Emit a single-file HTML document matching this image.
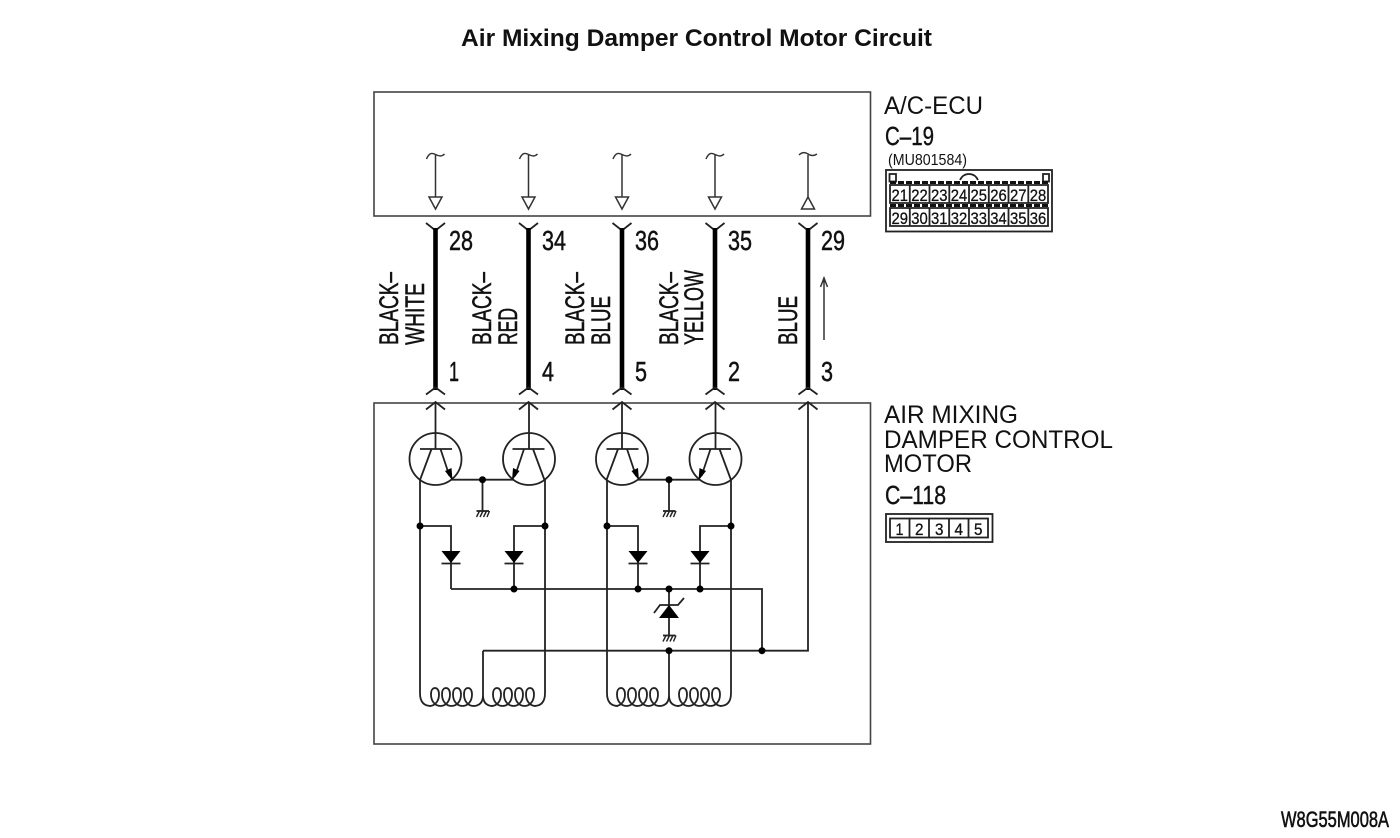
<!DOCTYPE html>
<html>
<head>
<meta charset="utf-8">
<style>
html,body{margin:0;padding:0;background:#fff}
svg{display:block}
text{font-family:"Liberation Sans",sans-serif;fill:#111}
.w{fill:none;stroke:#222;stroke-width:1.8}
.b{fill:none;stroke:#444;stroke-width:1.6}
.t{fill:none;stroke:#333;stroke-width:1.5}
.d{fill:#000}
.n text{font-size:28px;stroke:#111;stroke-width:.5}
.c text{font-size:17px;stroke:#111;stroke-width:.3}
.l text{font-size:27px;stroke:#111;stroke-width:.5}
.s{stroke:#111;stroke-width:.4}
</style>
</head>
<body>
<svg width="1400" height="838" viewBox="0 0 1400 838" xmlns="http://www.w3.org/2000/svg">
<defs>
  <g id="down" class="t">
    <path d="M-9 -50 C-6 -57 -3 -56 0 -54.500 C3 -53 6 -52 9 -55"/>
    <path d="M0 -54 V-12"/>
    <path d="M-6.500 -12 H6.500 L0 0 Z" fill="#fff"/>
  </g>
  <g id="wire">
    <path d="M-9.500 223 L0 230.500 L9.500 223" class="w"/>
    <path d="M0 228 V390" fill="none" stroke="#000" stroke-width="4.600"/>
    <path d="M-9.500 394.500 L0 387.500 L9.500 394.500" class="w"/>
    <path d="M-9.500 409.500 L0 402 L9.500 409.500" class="w"/>
  </g>
  <g id="ground" class="w">
    <path d="M-6 0 H6.500"/>
    <path d="M-3 0 L-6 6 M0.500 0 L-2.500 6 M4 0 L1 6 M7 0 L4.500 6" stroke-width="1.400"/>
  </g>
  <g id="diode">
    <path d="M-9.500 0 H9.500 L0 12 Z" fill="#000"/>
    <path d="M-9.500 12.500 H9.500" class="w"/>
  </g>
  <path id="loop" class="w" d="M-5.500 18 C0 18 4 13 4 6.500 C4 2.500 2.500 0 0 0 C-2.500 0 -4 2.500 -4 6.500 C-4 13 0 18 5.500 18"/>
  <g id="coil">
    <use href="#loop" x="14" y="0"/>
    <use href="#loop" x="25" y="0"/>
    <use href="#loop" x="36" y="0"/>
    <use href="#loop" x="47" y="0"/>
  </g>
  <g id="tL">
    <circle cx="0" cy="459" r="26" class="w"/>
    <path d="M0 403 V449 M-15.500 449 H16.500" class="w"/>
    <path d="M-4 449 L-15.500 480 M5 449 L14 476" class="w"/>
    <path d="M9.500 471 L16 468 L17 480.500 Z" fill="#000"/>
  </g>
</defs>

<text x="461" y="46" font-size="24" font-weight="bold" textLength="471" lengthAdjust="spacingAndGlyphs">Air Mixing Damper Control Motor Circuit</text>

<rect x="374" y="92" width="496.500" height="124" class="b"/>
<rect x="374" y="403" width="496.500" height="341" class="b"/>

<use href="#down" x="435.500" y="209"/>
<use href="#down" x="528.500" y="209"/>
<use href="#down" x="622" y="209"/>
<use href="#down" x="715" y="209"/>
<g class="t">
  <path d="M799 155 C802 152 805 152 808 154 C811 156 814 156 817 154"/>
  <path d="M808 155 V197"/>
  <path d="M801.500 209 H814.500 L808 197 Z" fill="#fff"/>
</g>

<use href="#wire" x="435.500"/>
<use href="#wire" x="528.500"/>
<use href="#wire" x="622"/>
<use href="#wire" x="715"/>
<use href="#wire" x="808"/>

<g class="n">
  <text x="449" y="250" textLength="24" lengthAdjust="spacingAndGlyphs">28</text>
  <text x="542" y="250" textLength="24" lengthAdjust="spacingAndGlyphs">34</text>
  <text x="635" y="250" textLength="24" lengthAdjust="spacingAndGlyphs">36</text>
  <text x="728" y="250" textLength="24" lengthAdjust="spacingAndGlyphs">35</text>
  <text x="821" y="250" textLength="24" lengthAdjust="spacingAndGlyphs">29</text>
  <text x="449" y="381" textLength="10" lengthAdjust="spacingAndGlyphs">1</text>
  <text x="542" y="381" textLength="12" lengthAdjust="spacingAndGlyphs">4</text>
  <text x="635" y="381" textLength="12" lengthAdjust="spacingAndGlyphs">5</text>
  <text x="728" y="381" textLength="12" lengthAdjust="spacingAndGlyphs">2</text>
  <text x="821" y="381" textLength="12" lengthAdjust="spacingAndGlyphs">3</text>
</g>

<g class="l">
  <text transform="translate(398,345) rotate(-90)" textLength="73" lengthAdjust="spacingAndGlyphs">BLACK–</text>
  <text transform="translate(424,345) rotate(-90)" textLength="62" lengthAdjust="spacingAndGlyphs">WHITE</text>
  <text transform="translate(491,345) rotate(-90)" textLength="73" lengthAdjust="spacingAndGlyphs">BLACK–</text>
  <text transform="translate(517,345) rotate(-90)" textLength="37" lengthAdjust="spacingAndGlyphs">RED</text>
  <text transform="translate(584,345) rotate(-90)" textLength="73" lengthAdjust="spacingAndGlyphs">BLACK–</text>
  <text transform="translate(610,345) rotate(-90)" textLength="49" lengthAdjust="spacingAndGlyphs">BLUE</text>
  <text transform="translate(678,345) rotate(-90)" textLength="73" lengthAdjust="spacingAndGlyphs">BLACK–</text>
  <text transform="translate(703,345) rotate(-90)" textLength="75" lengthAdjust="spacingAndGlyphs">YELLOW</text>
  <text transform="translate(797,345) rotate(-90)" textLength="49" lengthAdjust="spacingAndGlyphs">BLUE</text>
</g>

<path d="M824 340 V280 M820.500 287 L824 278 L827.500 287" class="t"/>

<use href="#tL" x="435.500"/>
<g transform="translate(1058,0) scale(-1,1)"><use href="#tL" x="529"/></g>
<use href="#tL" x="622"/>
<g transform="translate(1431,0) scale(-1,1)"><use href="#tL" x="715.500"/></g>

<g class="w">
  <path d="M451 479.700 H514"/>
  <path d="M482.500 479.700 V511"/>
  <path d="M420 480 V693 Q420 706 431 706"/>
  <path d="M545 480 V693 Q545 706 534 706"/>
  <path d="M420 526 H451 V589"/>
  <path d="M545 526 H514 V589"/>
  <path d="M451 589 H762 V650.700"/>
  <path d="M483 650.700 H808 V403"/>
  <path d="M483 650.700 V695 Q483 706 473 706 M483 695 Q483 706 493 706"/>
  <path d="M638 479.700 H700"/>
  <path d="M669 479.700 V511"/>
  <path d="M607 480 V693 Q607 706 618 706"/>
  <path d="M731 480 V693 Q731 706 720 706"/>
  <path d="M607 526 H638 V589"/>
  <path d="M731 526 H700 V589"/>
  <path d="M669 589 V635"/>
  <path d="M669 650.700 V695 Q669 706 659 706 M669 695 Q669 706 679 706"/>
  <path d="M654 613 L660 605 H678 L684 598"/>
</g>

<use href="#coil" x="421" y="688"/>
<use href="#coil" x="483" y="688"/>
<use href="#coil" x="607" y="688"/>
<use href="#coil" x="669" y="688"/>

<use href="#ground" x="482.500" y="511"/>
<use href="#ground" x="669" y="511"/>
<use href="#ground" x="669" y="635.500"/>

<use href="#diode" x="451" y="551"/>
<use href="#diode" x="514" y="551"/>
<use href="#diode" x="638" y="551"/>
<use href="#diode" x="700" y="551"/>
<path d="M659 618 H679 L669 605 Z" fill="#000"/>

<g class="d">
  <circle cx="482.500" cy="479.700" r="3.500"/>
  <circle cx="669" cy="479.700" r="3.500"/>
  <circle cx="420" cy="526" r="3.500"/>
  <circle cx="545" cy="526" r="3.500"/>
  <circle cx="607" cy="526" r="3.500"/>
  <circle cx="731" cy="526" r="3.500"/>
  <circle cx="514" cy="589" r="3.500"/>
  <circle cx="638" cy="589" r="3.500"/>
  <circle cx="669" cy="589" r="3.500"/>
  <circle cx="700" cy="589" r="3.500"/>
  <circle cx="669" cy="650.700" r="3.500"/>
  <circle cx="762" cy="650.700" r="3.500"/>
</g>

<text x="884" y="114" font-size="25" textLength="99" lengthAdjust="spacingAndGlyphs">A/C-ECU</text>
<text x="885" y="145" font-size="26" textLength="49" lengthAdjust="spacingAndGlyphs" class="s">C–19</text>
<text x="888" y="165" font-size="16" textLength="79" lengthAdjust="spacingAndGlyphs">(MU801584)</text>

<rect x="886" y="170" width="166" height="61.500" class="w"/>
<rect x="889.500" y="174" width="6.500" height="7.500" class="w" stroke-width="1.200"/>
<rect x="1043" y="174" width="6" height="7.500" class="w" stroke-width="1.200"/>
<path d="M960 180 C964 172 974 172 978 180" class="w" stroke-width="1.200"/>
<path d="M890 182.500 H1048 M890 205.500 H1048" fill="none" stroke="#111" stroke-width="3" stroke-dasharray="6 2"/>
<path class="w" d="M890 185 H1048 V203 H890 Z M890 208 H1048 V226 H890 Z
M909.800 185 V203 M929.500 185 V203 M949.300 185 V203 M969 185 V203 M988.800 185 V203 M1008.500 185 V203 M1028.300 185 V203
M909.800 208 V226 M929.500 208 V226 M949.300 208 V226 M969 208 V226 M988.800 208 V226 M1008.500 208 V226 M1028.300 208 V226"/>
<g class="c">
  <text x="891.500" y="201" textLength="16.500" lengthAdjust="spacingAndGlyphs">21</text>
  <text x="911.300" y="201" textLength="16.500" lengthAdjust="spacingAndGlyphs">22</text>
  <text x="931" y="201" textLength="16.500" lengthAdjust="spacingAndGlyphs">23</text>
  <text x="950.800" y="201" textLength="16.500" lengthAdjust="spacingAndGlyphs">24</text>
  <text x="970.500" y="201" textLength="16.500" lengthAdjust="spacingAndGlyphs">25</text>
  <text x="990.300" y="201" textLength="16.500" lengthAdjust="spacingAndGlyphs">26</text>
  <text x="1010" y="201" textLength="16.500" lengthAdjust="spacingAndGlyphs">27</text>
  <text x="1029.800" y="201" textLength="16.500" lengthAdjust="spacingAndGlyphs">28</text>
  <text x="891.500" y="224" textLength="16.500" lengthAdjust="spacingAndGlyphs">29</text>
  <text x="911.300" y="224" textLength="16.500" lengthAdjust="spacingAndGlyphs">30</text>
  <text x="931" y="224" textLength="16.500" lengthAdjust="spacingAndGlyphs">31</text>
  <text x="950.800" y="224" textLength="16.500" lengthAdjust="spacingAndGlyphs">32</text>
  <text x="970.500" y="224" textLength="16.500" lengthAdjust="spacingAndGlyphs">33</text>
  <text x="990.300" y="224" textLength="16.500" lengthAdjust="spacingAndGlyphs">34</text>
  <text x="1010" y="224" textLength="16.500" lengthAdjust="spacingAndGlyphs">35</text>
  <text x="1029.800" y="224" textLength="16.500" lengthAdjust="spacingAndGlyphs">36</text>
</g>

<text x="884" y="423" font-size="25" textLength="134" lengthAdjust="spacingAndGlyphs">AIR MIXING</text>
<text x="884" y="448" font-size="25" textLength="229" lengthAdjust="spacingAndGlyphs">DAMPER CONTROL</text>
<text x="884" y="472" font-size="25" textLength="88" lengthAdjust="spacingAndGlyphs">MOTOR</text>
<text x="885" y="504" font-size="26" textLength="61" lengthAdjust="spacingAndGlyphs" class="s">C–118</text>

<rect x="886" y="514" width="106.500" height="28" class="w"/>
<rect x="890" y="518.500" width="98" height="19" class="w"/>
<path class="w" d="M909.500 518.500 V537.500 M929 518.500 V537.500 M949 518.500 V537.500 M968.500 518.500 V537.500"/>
<g class="c">
  <text x="895.500" y="535" textLength="8" lengthAdjust="spacingAndGlyphs">1</text>
  <text x="915" y="535" textLength="8.500" lengthAdjust="spacingAndGlyphs">2</text>
  <text x="935" y="535" textLength="8.500" lengthAdjust="spacingAndGlyphs">3</text>
  <text x="954.500" y="535" textLength="8.500" lengthAdjust="spacingAndGlyphs">4</text>
  <text x="974" y="535" textLength="8.500" lengthAdjust="spacingAndGlyphs">5</text>
</g>

<text x="1281" y="827" font-size="22" textLength="108" lengthAdjust="spacingAndGlyphs" stroke="#111" stroke-width=".6">W8G55M008A</text>
</svg>
</body>
</html>
